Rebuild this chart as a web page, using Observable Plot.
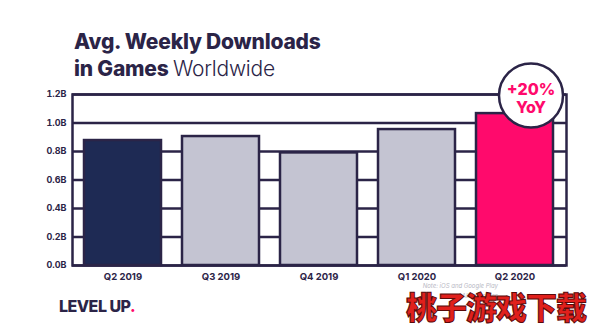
<!DOCTYPE html>
<html><head><meta charset="utf-8">
<script src="https://cdn.jsdelivr.net/npm/d3@7"></script>
<script src="https://cdn.jsdelivr.net/npm/@observablehq/plot@0.6"></script>
<style>
html,body{margin:0;padding:0;background:#fff;}
#wrap{position:relative;width:594px;height:331px;overflow:hidden;font-family:Inter, "Open Sans", sans-serif;}
#chart{position:absolute;left:0;top:0;}
.t{position:absolute;white-space:nowrap;color:#2b2447;}
</style></head>
<body>
<div id="wrap">
  <div id="chart"></div>
  <div class="t" style="left:74px;top:28px;font-size:21px;font-weight:800;letter-spacing:-0.2px;line-height:27px;">Avg. Weekly Downloads<br>in Games <span style="font-weight:300">Worldwide</span></div>
  <div class="t" style="left:59px;top:296px;font-size:16px;font-weight:800;letter-spacing:-0.5px;">LEVEL UP<span style="color:#ff0a6c">.</span></div>
  <div class="t" style="left:418px;top:281px;font-size:6px;font-style:italic;color:#b8b8c4;text-align:right;width:80px;line-height:10px;">Note: iOS and Google Play<br>All estimates</div>
  <div class="t" style="left:406px;top:283px;font-size:31px;font-weight:900;color:#e0201c;font-family:'Noto Sans CJK SC';letter-spacing:-1px;-webkit-text-stroke:1px #5a0a0a;text-shadow:0 0 2px #fff,0 0 2px #fff;">桃子游戏下载</div>
</div>
<script>
const quarters = ["Q2 2019", "Q3 2019", "Q4 2019", "Q1 2020", "Q2 2020"];
const downloads = [0.877, 0.905, 0.79, 0.954, 1.066]; // billions
const yTicks = [0, 0.2, 0.4, 0.6, 0.8, 1.0, 1.2];
const badgeLines = ["+20%", "YoY"];
const badgeQuarter = "Q2 2020";
const badgeY = 1.2;

const dark = "#2b2447";
const pink = "#ff0a6c";
const barColors = ["#1e2a54", "#c4c4d2", "#c4c4d2", "#c4c4d2", pink];
const data = quarters.map((q, i) => ({q, v: downloads[i]}));
const badge = [{q: badgeQuarter, y: badgeY}];

const chart = Plot.plot({
  width: 594, height: 331,
  marginLeft: 72, marginRight: 28, marginTop: 94, marginBottom: 66,
  style: {fontFamily: "Inter, 'Open Sans', sans-serif", background: "transparent"},
  x: {domain: quarters, paddingInner: 0.21, paddingOuter: 0.11, label: null},
  y: {domain: [0, 1.2], label: null},
  color: {domain: quarters, range: barColors},
  marks: [
    Plot.ruleY(yTicks, {stroke: dark, strokeWidth: 2.5}),
    Plot.frame({stroke: dark, strokeWidth: 2.5}),
    Plot.barY(data, {x: "q", y: "v", fill: "q", stroke: dark, strokeWidth: 2.5}),
    Plot.axisY(yTicks, {tickSize: 0, tickPadding: 6, tickFormat: d => d.toFixed(1) + "B", fontSize: 9, fontWeight: 700, fill: dark, label: null}),
    Plot.axisX({tickSize: 0, tickPadding: 8, fontSize: 9.5, fontWeight: 700, fill: dark, label: null}),
    Plot.dot(badge, {x: "q", y: "y", r: 32, dx: 16, dy: 1, fill: "white", stroke: dark, strokeWidth: 2.5}),
    Plot.text(badge, {x: "q", y: "y", text: () => badgeLines[0], dx: 16, dy: -5, fill: pink, fontSize: 16, fontWeight: 800}),
    Plot.text(badge, {x: "q", y: "y", text: () => badgeLines[1], dx: 16, dy: 13, fill: pink, fontSize: 16, fontWeight: 800})
  ]
});
document.getElementById("chart").appendChild(chart);
</script>
</body></html>
